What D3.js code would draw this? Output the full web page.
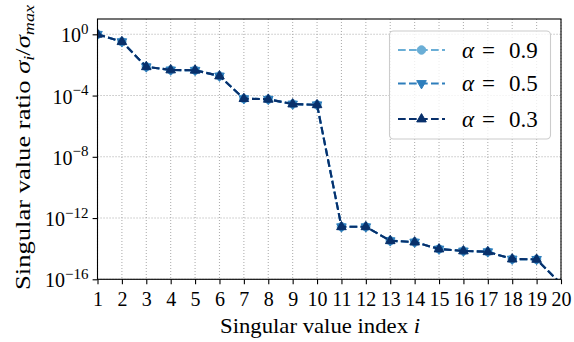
<!DOCTYPE html>
<html>
<head>
<meta charset="utf-8">
<script src="https://cdn.jsdelivr.net/npm/d3@7"></script>
<style>
  html, body { margin: 0; padding: 0; background: #fff; }
  svg { display: block; }
  text { font-family: "Liberation Serif", "Times New Roman", serif; fill: #000; }
</style>
</head>
<body>
<svg id="chart" width="574" height="342"></svg>
<script>
// Singular value index (x) and normalised singular values sigma_i / sigma_max
const indices = [1, 2, 3, 4, 5, 6, 7, 8, 9, 10, 11, 12, 13, 14, 15, 16, 17, 18, 19, 20];
const ratiosAlpha09 = [1, 3.3e-1, 7.6e-3, 4.7e-3, 4.5e-3, 1.9e-3, 6.3e-5, 5.7e-5, 2.8e-5, 2.5e-5,
  2.7e-13, 2.7e-13, 3.3e-14, 2.7e-14, 9.5e-15, 7.1e-15, 6.3e-15, 2.1e-15, 2.0e-15, 5e-17];
const ratiosAlpha05 = [1, 3.3e-1, 7.6e-3, 4.7e-3, 4.5e-3, 1.9e-3, 6.3e-5, 5.7e-5, 2.8e-5, 2.5e-5,
  2.7e-13, 2.7e-13, 3.3e-14, 2.7e-14, 9.5e-15, 7.1e-15, 6.3e-15, 2.1e-15, 2.0e-15, 5e-17];
const ratiosAlpha03 = [1, 3.3e-1, 7.6e-3, 4.7e-3, 4.5e-3, 1.9e-3, 6.3e-5, 5.7e-5, 2.8e-5, 2.5e-5,
  2.7e-13, 2.7e-13, 3.3e-14, 2.7e-14, 9.5e-15, 7.1e-15, 6.3e-15, 2.1e-15, 2.0e-15, 5e-17];
const alphaLabels = ["0.9", "0.5", "0.3"];
const yTickExponents = [0, -4, -8, -12, -16];

const series = [
  { alpha: alphaLabels[0], values: ratiosAlpha09, color: "#6aaed6", marker: "circle" },
  { alpha: alphaLabels[1], values: ratiosAlpha05, color: "#2e7ebc", marker: "down" },
  { alpha: alphaLabels[2], values: ratiosAlpha03, color: "#08306b", marker: "up" }
];

const svg = d3.select("#chart");
const plot = { left: 97.5, right: 561, top: 19, bottom: 279.3 };
const serif = '"Liberation Serif", "Times New Roman", serif';

const x = d3.scaleLinear().domain([1, 20]).range([plot.left, plot.right]);
const y = d3.scaleLog().domain([1e-16, 10]).range([plot.bottom, plot.top]);

// clip region for the data
svg.append("defs").append("clipPath").attr("id", "plotClip")
  .append("rect")
  .attr("x", plot.left).attr("y", plot.top)
  .attr("width", plot.right - plot.left).attr("height", plot.bottom - plot.top);

// dotted grid
const grid = svg.append("g").attr("stroke", "#b0b0b0").attr("stroke-width", 1.1)
  .attr("stroke-dasharray", "1.1,1.9");
grid.selectAll("line.gx").data(indices).join("line")
  .attr("x1", d => x(d)).attr("x2", d => x(d))
  .attr("y1", plot.top).attr("y2", plot.bottom);
grid.selectAll("line.gy").data(yTickExponents).join("line")
  .attr("x1", plot.left).attr("x2", plot.right)
  .attr("y1", d => y(Math.pow(10, d))).attr("y2", d => y(Math.pow(10, d)));

// axes
const xAxis = d3.axisBottom(x).tickValues(indices).tickSize(4.9).tickPadding(4).tickFormat(d3.format("d"));
const gx = svg.append("g").attr("transform", `translate(0,${plot.bottom})`).call(xAxis);
gx.select(".domain").remove();
gx.selectAll(".tick line").attr("stroke", "#000").attr("stroke-width", 1.1);
gx.selectAll(".tick text").attr("font-size", 20).attr("y", 27).attr("dy", 0)
  .style("font-family", serif).attr("fill", "#000");

const yAxis = d3.axisLeft(y).tickValues(yTickExponents.map(e => Math.pow(10, e))).tickSize(4.9).tickFormat("");
const gy = svg.append("g").attr("transform", `translate(${plot.left},0)`).call(yAxis);
gy.select(".domain").remove();
gy.selectAll(".tick line").attr("stroke", "#000").attr("stroke-width", 1.1);

// y tick labels as powers of ten
gy.selectAll(".tick").each(function(d) {
  const e = Math.round(Math.log10(d));
  const t = d3.select(this).append("text")
    .attr("x", -9).attr("y", 7.5).attr("text-anchor", "end")
    .attr("font-size", 20).style("font-family", serif).attr("fill", "#000");
  t.append("tspan").text("10");
  t.append("tspan").attr("dy", -8.5).attr("font-size", 15)
    .text(e < 0 ? "\u2212" + Math.abs(e) : String(e));
});

// data lines and markers
const line = d3.line().x((d, i) => x(indices[i])).y(d => y(d));
const dataLayer = svg.append("g").attr("clip-path", "url(#plotClip)");

const markerPath = {
  circle: d3.symbol().type(d3.symbolCircle).size(56)(),
  up: "M0,-5.4L4.8,2.9L-4.8,2.9Z",
  down: "M0,5.4L4.8,-2.9L-4.8,-2.9Z"
};

series.forEach(s => {
  const g = dataLayer.append("g");
  g.append("path").datum(s.values)
    .attr("d", line).attr("fill", "none")
    .attr("stroke", s.color).attr("stroke-width", 2.1)
    .attr("stroke-dasharray", "7.7,3.3");
  g.selectAll("path.m").data(s.values).join("path")
    .attr("class", "m")
    .attr("transform", (d, i) => `translate(${x(indices[i])},${y(d)})`)
    .attr("d", markerPath[s.marker])
    .attr("fill", s.color).attr("stroke", s.color).attr("stroke-width", 1);
});

// frame
svg.append("rect")
  .attr("x", plot.left).attr("y", plot.top)
  .attr("width", plot.right - plot.left).attr("height", plot.bottom - plot.top)
  .attr("fill", "none").attr("stroke", "#000").attr("stroke-width", 1.1);

// axis titles
const xTitle = svg.append("text").attr("x", 220).attr("y", 333)
  .attr("text-anchor", "start").attr("font-size", 22)
  .attr("textLength", 200).attr("lengthAdjust", "spacingAndGlyphs");
xTitle.append("tspan").text("Singular value index ");
xTitle.append("tspan").attr("font-style", "italic").text("i");

const yTitle = svg.append("text")
  .attr("transform", "translate(29.5,290) rotate(-90)")
  .attr("text-anchor", "start").attr("font-size", 22)
  .attr("textLength", 285).attr("lengthAdjust", "spacingAndGlyphs");
yTitle.append("tspan").text("Singular value ratio ");
yTitle.append("tspan").attr("font-style", "italic").text("\u03C3");
yTitle.append("tspan").attr("font-style", "italic").attr("font-size", 15).attr("dy", 4).text("i");
yTitle.append("tspan").attr("dy", -4).text("/");
yTitle.append("tspan").attr("font-style", "italic").text("\u03C3");
yTitle.append("tspan").attr("font-style", "italic").attr("font-size", 15).attr("dy", 4).text("max");

// legend
const legend = svg.append("g");
legend.append("rect")
  .attr("x", 389.5).attr("y", 31).attr("width", 161).attr("height", 108)
  .attr("rx", 4).attr("fill", "#fff").attr("fill-opacity", 0.8)
  .attr("stroke", "#cccccc").attr("stroke-width", 1.1);
const rowY = [50, 83.5, 119];
series.forEach((s, i) => {
  const row = legend.append("g").attr("transform", `translate(0,${rowY[i]})`);
  row.append("line").attr("x1", 398).attr("x2", 445).attr("y1", 0).attr("y2", 0)
    .attr("stroke", s.color).attr("stroke-width", 2.1).attr("stroke-dasharray", "7.7,3.3");
  row.append("path").attr("transform", "translate(421.5,0)")
    .attr("d", markerPath[s.marker]).attr("fill", s.color).attr("stroke", s.color).attr("stroke-width", 1);
  const t = row.append("text").attr("y", 7.5).attr("font-size", 23);
  t.append("tspan").attr("x", 462).attr("font-style", "italic").text("\u03B1");
  t.append("tspan").attr("x", 482).text("=");
  t.append("tspan").attr("x", 509).text(s.alpha);
});
</script>
</body>
</html>
